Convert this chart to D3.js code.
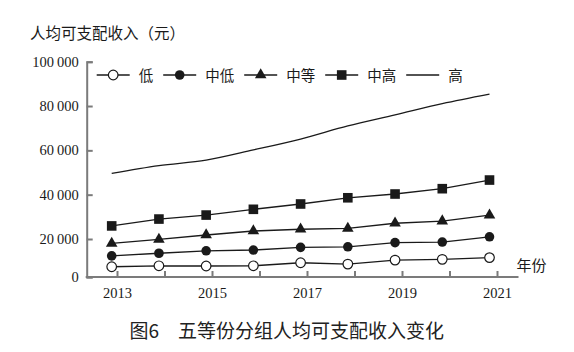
<!DOCTYPE html>
<html>
<head>
<meta charset="utf-8">
<script src="https://cdn.jsdelivr.net/npm/d3@7"></script>
<style>
  body { margin: 0; background: #fff; }
  svg { display: block; }
</style>
</head>
<body>
<div id="chart"></div>
<script>
// data (yuan per person)
const years = [2013, 2014, 2015, 2016, 2017, 2018, 2019, 2020, 2021];
const low = [5400, 5900, 5800, 5900, 7500, 6800, 8900, 9300, 10200];
const lowMid = [11100, 12500, 13800, 14200, 15600, 15900, 18100, 18400, 21000];
const mid = [17700, 19800, 21800, 23600, 24400, 24800, 27100, 28100, 30800];
const upMid = [25900, 29000, 30800, 33400, 35800, 38600, 40300, 42700, 46600];
const high = [49600, 53100, 55600, 60200, 65100, 71000, 76000, 81100, 85400];
const yTicks = [0, 20000, 40000, 60000, 80000, 100000];
const seriesNames = ["低", "中低", "中等", "中高", "高"];

const width = 574, height = 352;
const axisColor = "#7b7b7b", ink = "#1a1a1a";
const serif = "'Liberation Serif', 'DejaVu Serif', serif";
const cjk = "'Noto Sans CJK SC', 'Noto Sans', sans-serif";

const svg = d3.select("#chart")
    .append("svg")
    .attr("width", width)
    .attr("height", height);

// markers sit a little left of the year ticks, as in the source figure
const x = d3.scaleLinear().domain([2013, 2021]).range([111.7, 489.5]);
const xTick = d3.scaleLinear().domain([2013, 2021]).range([117, 497]);
// the printed axis squeezes the 0-20 000 band
const y = d3.scaleLinear().domain([0, 20000, 100000]).range([277, 239, 61.7]);

const axisX0 = 86.7, axisX1 = 518.5;

// y axis
const yAxis = svg.append("g")
    .attr("transform", `translate(${axisX0},0)`)
    .call(d3.axisLeft(y)
        .tickValues(yTicks)
        .tickSizeInner(-6)
        .tickSizeOuter(-6)
        .tickPadding(8)
        .tickFormat(d => d3.format(",")(d).replace(/,/g, "\u2009")));
yAxis.selectAll("path, line").attr("stroke", axisColor).attr("stroke-width", 2);
yAxis.selectAll("text")
    .attr("font-family", serif)
    .attr("font-size", "14.5px")
    .attr("fill", ink);

// x axis
const xAxis = svg.append("g")
    .attr("transform", `translate(0,${y(0)})`)
    .call(d3.axisBottom(xTick)
        .tickValues(years)
        .tickSizeInner(-6)
        .tickSizeOuter(0)
        .tickPadding(11)
        .tickFormat(d => (d - 2013) % 2 ? "" : d));
xAxis.select(".domain").remove();
xAxis.append("line")
    .attr("x1", axisX0 - 1).attr("x2", axisX1)
    .attr("stroke", axisColor).attr("stroke-width", 2);
xAxis.selectAll(".tick line").attr("stroke", axisColor).attr("stroke-width", 2);
xAxis.selectAll("text")
    .attr("font-family", serif)
    .attr("font-size", "14.5px")
    .attr("fill", ink);

// axis titles
svg.append("text")
    .attr("x", 30).attr("y", 39)
    .attr("font-family", cjk).attr("font-size", "15.5px").attr("fill", ink)
    .text("人均可支配收入（元）");

svg.append("text")
    .attr("x", 516.5).attr("y", 270.5)
    .attr("font-family", cjk).attr("font-size", "15px").attr("fill", ink)
    .text("年份");

// series
const series = [
    { name: "低", values: low, marker: "circle-open" },
    { name: "中低", values: lowMid, marker: "circle" },
    { name: "中等", values: mid, marker: "triangle" },
    { name: "中高", values: upMid, marker: "square" },
    { name: "高", values: high, marker: "none" }
];

const line = d3.line()
    .x((d, i) => x(years[i]))
    .y(d => y(d));

function drawMarker(g, type, cx, cy) {
    if (type === "circle-open") {
        g.append("circle").attr("cx", cx).attr("cy", cy).attr("r", 4.8)
            .attr("fill", "#fff").attr("stroke", ink).attr("stroke-width", 1.2);
    } else if (type === "circle") {
        g.append("circle").attr("cx", cx).attr("cy", cy).attr("r", 4.8)
            .attr("fill", ink);
    } else if (type === "triangle") {
        g.append("path")
            .attr("d", d3.symbol(d3.symbolTriangle, 58)())
            .attr("transform", `translate(${cx},${cy})`)
            .attr("fill", ink);
    } else if (type === "square") {
        g.append("rect").attr("x", cx - 4.8).attr("y", cy - 4.8)
            .attr("width", 9.6).attr("height", 9.6).attr("fill", ink);
    }
}

series.forEach(s => {
    const g = svg.append("g");
    g.append("path")
        .datum(s.values)
        .attr("d", s.marker === "none" ? line.curve(d3.curveMonotoneX)(s.values) : line.curve(d3.curveLinear)(s.values))
        .attr("fill", "none")
        .attr("stroke", ink)
        .attr("stroke-width", 1.3);
    s.values.forEach((v, i) => drawMarker(g, s.marker, x(years[i]), y(v)));
});

// legend
const legend = svg.append("g").attr("transform", "translate(0,75)");
let lx = 96.7;
series.forEach(s => {
    const item = legend.append("g");
    item.append("line")
        .attr("x1", lx).attr("x2", lx + 33)
        .attr("stroke", ink).attr("stroke-width", 1.3);
    drawMarker(item, s.marker, lx + 16.5, 0);
    const t = item.append("text")
        .attr("x", lx + 42).attr("y", 5.5)
        .attr("font-family", cjk).attr("font-size", "14.5px").attr("fill", ink)
        .text(s.name);
    lx = lx + 42 + t.node().getComputedTextLength() + 10;
});

// caption
svg.append("text")
    .attr("x", 129.5).attr("y", 338)
    .attr("font-family", cjk).attr("font-size", "19px").attr("fill", "#222")
    .text("图6\u3000五等份分组人均可支配收入变化");
</script>
</body>
</html>
